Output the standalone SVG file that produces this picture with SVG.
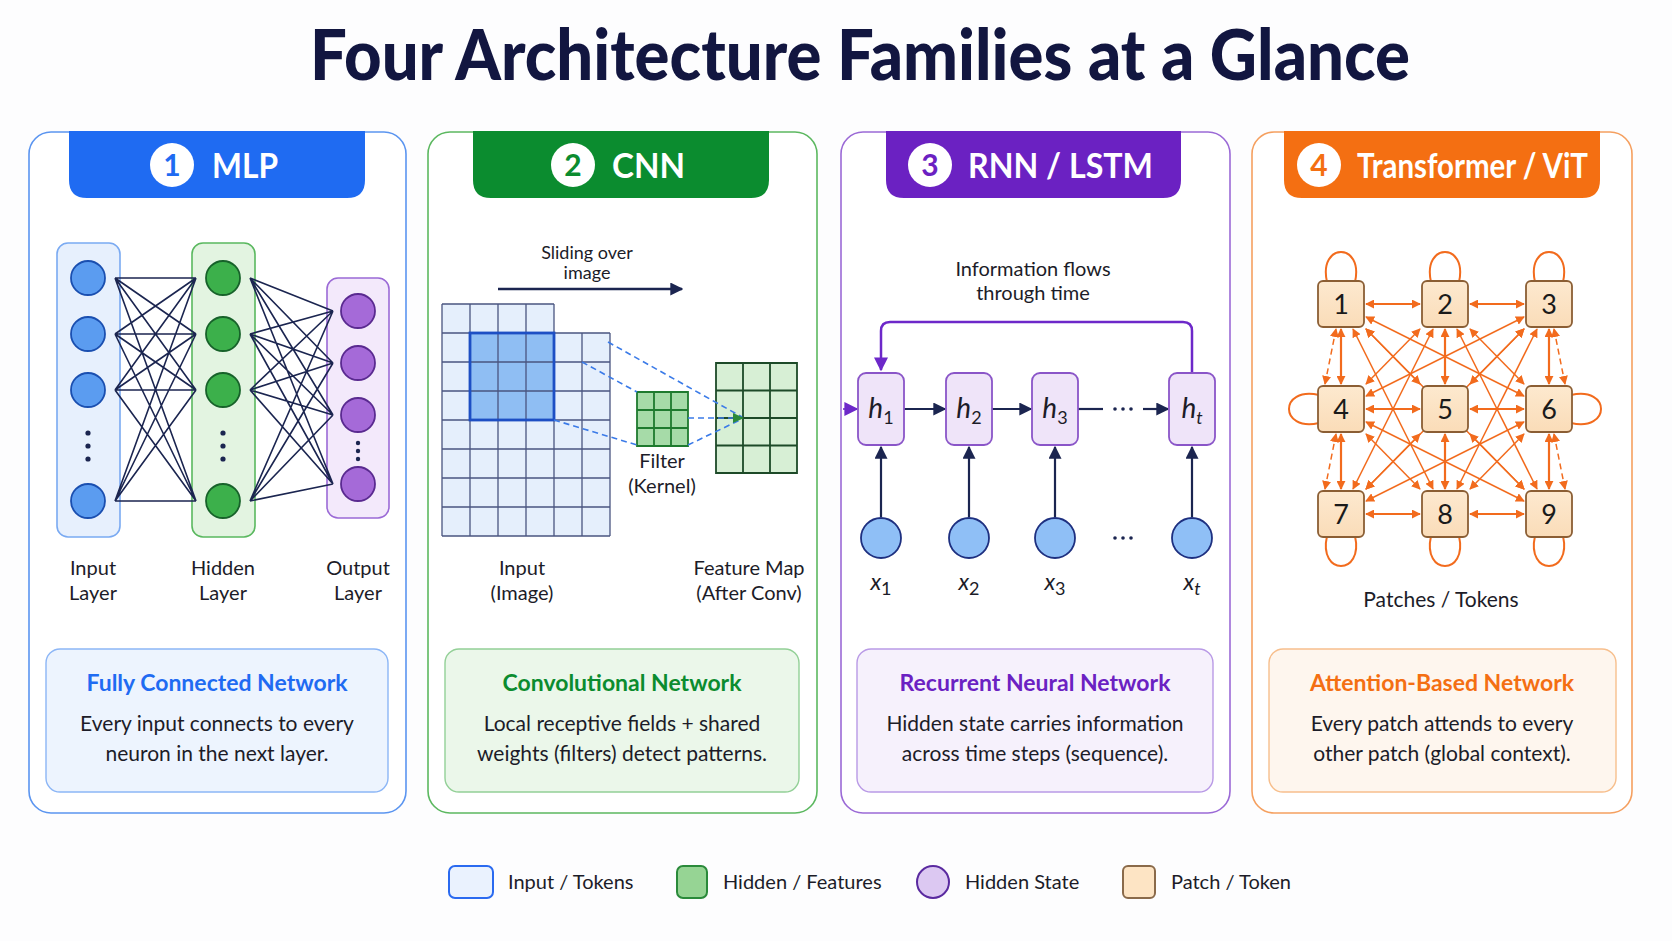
<svg xmlns="http://www.w3.org/2000/svg" width="1672" height="941" viewBox="0 0 1672 941">
<style>
text{font-family:Lato,"Liberation Sans",Arial,sans-serif;fill:#1c1c28}
.title{font-size:70px;font-weight:900;fill:#121640}
.hdr{font-size:35px;font-weight:700;fill:#fff}
.num{font-size:30px;font-weight:700}
.lbl{font-size:20px;text-anchor:middle}
.dt{font-size:23px;font-weight:700;text-anchor:middle}
.db{font-size:21px;text-anchor:middle}
.lg{font-size:20px}
.h{font-size:28px;font-style:italic;text-anchor:middle}
.x{font-size:23px;font-style:italic;text-anchor:middle}
.sub{font-size:18px;font-style:normal}
.tn{font-size:27px;text-anchor:middle;fill:#1a1a1a}
.panel{fill:#fff;stroke-width:1.6}
.nv{stroke:#1b2550;stroke-width:1.6;fill:none}
.oe{stroke:#f26b1d;stroke-width:1.5;fill:none;marker-start:url(#ao);marker-end:url(#ao)}
.oo{stroke:#f26b1d;stroke-width:2.2;fill:none;marker-start:url(#ao);marker-end:url(#ao)}
.loop{stroke:#f26b1d;stroke-width:2;fill:none}
.dash{stroke:#3b7be8;stroke-width:1.6;stroke-dasharray:6 4;fill:none}
.tok{fill:url(#gTok);stroke:#8b5e34;stroke-width:1.8}
.hb{fill:#efe4f9;stroke:#8a55c8;stroke-width:1.8}
.xc{fill:#8fbff6;stroke:#1e3080;stroke-width:1.8}
.in{fill:#5b9cf0;stroke:#1a4fb0;stroke-width:1.8}
.hd{fill:#3cb04b;stroke:#17622a;stroke-width:1.8}
.ou{fill:#a56ad8;stroke:#5a2a90;stroke-width:1.8}
.dot{fill:#1b2550}
</style>
<defs>
<linearGradient id="gTok" x1="0" y1="0" x2="0" y2="1"><stop offset="0" stop-color="#fde9cf"/><stop offset="1" stop-color="#fadcb8"/></linearGradient>
<marker id="an" viewBox="0 0 10 10" refX="9" refY="5" markerWidth="13" markerHeight="13" markerUnits="userSpaceOnUse" orient="auto"><path d="M0,0 L10,5 L0,10 z" fill="#1b2550"/></marker>
<marker id="ap" viewBox="0 0 10 10" refX="9" refY="5" markerWidth="14" markerHeight="14" markerUnits="userSpaceOnUse" orient="auto"><path d="M0,0 L10,5 L0,10 z" fill="#6d28c9"/></marker>
<marker id="ao" viewBox="0 0 10 10" refX="9" refY="5" markerWidth="9" markerHeight="9" markerUnits="userSpaceOnUse" orient="auto-start-reverse"><path d="M0,0 L10,5 L0,10 z" fill="#f26b1d"/></marker>
</defs>
<rect width="1672" height="941" fill="#fdfdfe"/>
<text class="title" x="860" y="80" text-anchor="middle" textLength="1100" lengthAdjust="spacingAndGlyphs">Four Architecture Families at a Glance</text>

<!-- Panels -->
<g id="panel-mlp">
<rect class="panel" x="29" y="132" width="377" height="681" rx="22" stroke="#5b95f0"/>
<path d="M69,131 H365 V180 Q365,198 347,198 H87 Q69,198 69,180 Z" fill="#1f6bf2"/>
<circle cx="172" cy="165" r="22" fill="#fff"/>
<text class="num" x="172" y="176" text-anchor="middle" style="fill:#1f6bf2">1</text>
<text class="hdr" x="212" y="178" textLength="66" lengthAdjust="spacingAndGlyphs">MLP</text>
</g>
<g id="panel-cnn">
<rect class="panel" x="428" y="132" width="389" height="681" rx="22" stroke="#5cb860"/>
<path d="M473,131 H769 V180 Q769,198 751,198 H491 Q473,198 473,180 Z" fill="#0b8c2f"/>
<circle cx="573" cy="165" r="22" fill="#fff"/>
<text class="num" x="573" y="176" text-anchor="middle" style="fill:#0b8c2f">2</text>
<text class="hdr" x="612" y="178" textLength="73" lengthAdjust="spacingAndGlyphs">CNN</text>
</g>
<g id="panel-rnn">
<rect class="panel" x="841" y="132" width="389" height="681" rx="22" stroke="#9b6ad6"/>
<path d="M886,131 H1181 V180 Q1181,198 1163,198 H904 Q886,198 886,180 Z" fill="#6b21c2"/>
<circle cx="930" cy="165" r="22" fill="#fff"/>
<text class="num" x="930" y="176" text-anchor="middle" style="fill:#6b21c2">3</text>
<text class="hdr" x="968" y="178" textLength="185" lengthAdjust="spacingAndGlyphs">RNN / LSTM</text>
</g>
<g id="panel-vit">
<rect class="panel" x="1252" y="132" width="380" height="681" rx="22" stroke="#f5a060"/>
<path d="M1284,131 H1600 V180 Q1600,198 1582,198 H1302 Q1284,198 1284,180 Z" fill="#f46f12"/>
<circle cx="1319" cy="165" r="22" fill="#fff"/>
<text class="num" x="1319" y="176" text-anchor="middle" style="fill:#f46f12">4</text>
<text class="hdr" x="1357" y="178" textLength="231" lengthAdjust="spacingAndGlyphs">Transformer / ViT</text>
</g>

<!-- MLP -->
<g id="mlp-layers">
<rect x="57" y="243" width="63" height="294" rx="11" fill="#e7f0fd" stroke="#7aaaf2" stroke-width="1.6"/>
<rect x="192" y="243" width="63" height="294" rx="11" fill="#e3f4e1" stroke="#5ab85f" stroke-width="1.6"/>
<rect x="327" y="278" width="62" height="240" rx="11" fill="#f3e9fb" stroke="#9b6ad6" stroke-width="1.6"/>
</g>
<g id="connectors">
<path class="nv" d="M115 278L196 278M115 278L196 334M115 278L196 390M115 278L196 501M115 334L196 278M115 334L196 334M115 334L196 390M115 334L196 501M115 390L196 278M115 390L196 334M115 390L196 390M115 390L196 501M115 501L196 278M115 501L196 334M115 501L196 390M115 501L196 501"/>
<path class="nv" d="M250 278L333 311M250 278L333 363M250 278L333 415M250 278L333 484M250 334L333 311M250 334L333 363M250 334L333 415M250 334L333 484M250 390L333 311M250 390L333 363M250 390L333 415M250 390L333 484M250 501L333 311M250 501L333 363M250 501L333 415M250 501L333 484"/>
</g>
<g id="mlp-nodes">
<circle class="in" cx="88" cy="278" r="17"/><circle class="in" cx="88" cy="334" r="17"/><circle class="in" cx="88" cy="390" r="17"/><circle class="in" cx="88" cy="501" r="17"/>
<circle class="dot" cx="88" cy="433" r="2.6"/><circle class="dot" cx="88" cy="446" r="2.6"/><circle class="dot" cx="88" cy="459" r="2.6"/>
<circle class="hd" cx="223" cy="278" r="17"/><circle class="hd" cx="223" cy="334" r="17"/><circle class="hd" cx="223" cy="390" r="17"/><circle class="hd" cx="223" cy="501" r="17"/>
<circle class="dot" cx="223" cy="433" r="2.6"/><circle class="dot" cx="223" cy="446" r="2.6"/><circle class="dot" cx="223" cy="459" r="2.6"/>
<circle class="ou" cx="358" cy="311" r="17"/><circle class="ou" cx="358" cy="363" r="17"/><circle class="ou" cx="358" cy="415" r="17"/><circle class="ou" cx="358" cy="484" r="17"/>
<circle class="dot" cx="358" cy="443" r="2.2"/><circle class="dot" cx="358" cy="451" r="2.2"/><circle class="dot" cx="358" cy="459" r="2.2"/>
</g>
<g id="mlp-labels">
<text class="lbl" x="93" y="575">Input</text><text class="lbl" x="93" y="600">Layer</text>
<text class="lbl" x="223" y="575">Hidden</text><text class="lbl" x="223" y="600">Layer</text>
<text class="lbl" x="358" y="575">Output</text><text class="lbl" x="358" y="600">Layer</text>
</g>

<!-- CNN -->
<g id="cnn-slide">
<text class="lbl" x="587" y="259" style="font-size:18px">Sliding over</text>
<text class="lbl" x="587" y="279" style="font-size:18px">image</text>
<line x1="498" y1="289" x2="682" y2="289" stroke="#1b2550" stroke-width="2.5" marker-end="url(#an)"/>
</g>
<g id="cnn-input">
<path d="M442,304 H554 V333 H610 V536 H442 Z" fill="#e5effc"/>
<rect x="470" y="333" width="84" height="87" fill="#8fbef3"/>
<path d="M442,304 H554 M442,333 H610 M442,362 H610 M442,391 H610 M442,420 H610 M442,449 H610 M442,478 H610 M442,507 H610 M442,536 H610 M442,304 V536 M470,304 V536 M498,304 V536 M526,304 V536 M554,304 V536 M582,333 V536 M610,333 V536" stroke="#4a5580" stroke-width="1.3" fill="none"/>
<rect x="470" y="333" width="84" height="87" fill="none" stroke="#1d4fc4" stroke-width="2.8"/>
</g>
<g id="cnn-filter">
<rect x="637" y="392" width="51" height="54" fill="#a6dba8"/>
<path d="M637,392 H688 V446 H637 Z M654,392 V446 M671,392 V446 M637,410 H688 M637,428 H688" stroke="#1e7a2e" stroke-width="1.8" fill="none"/>
</g>
<g id="cnn-fmap">
<rect x="716" y="363" width="81" height="110" fill="#d7efd5"/>
<path d="M716,363 H797 V473 H716 Z M743,363 V473 M770,363 V473 M716,390.5 H797 M716,418 H797 M716,445.5 H797" stroke="#1d4a28" stroke-width="1.8" fill="none"/>
</g>
<g id="cnn-projection">
<path class="dash" d="M608,342 L742,417 M582,362 L637,392 M554,420 L637,445 M688,418 L738,418 M688,445 L740,420"/>
<polygon points="733,413 744,418 733,423" fill="#2a8a3a"/>
</g>
<g id="cnn-labels">
<text class="lbl" x="662" y="468">Filter</text><text class="lbl" x="662" y="493">(Kernel)</text>
<text class="lbl" x="522" y="575">Input</text><text class="lbl" x="522" y="600">(Image)</text>
<text class="lbl" x="749" y="575">Feature Map</text><text class="lbl" x="749" y="600">(After Conv)</text>
</g>

<!-- RNN -->
<g id="rnn-caption">
<text class="lbl" x="1033" y="276">Information flows</text>
<text class="lbl" x="1033" y="300">through time</text>
</g>
<g id="rnn-connectors">
<path d="M1192,373 V331 Q1192,322 1183,322 H890 Q881,322 881,331 V370" stroke="#6d28c9" stroke-width="2.5" fill="none" marker-end="url(#ap)"/>
<line x1="843" y1="409" x2="857" y2="409" stroke="#6d28c9" stroke-width="1.6" marker-end="url(#ap)"/>
<line x1="904" y1="409" x2="945" y2="409" stroke="#1b2550" stroke-width="2.2" marker-end="url(#an)"/>
<line x1="992" y1="409" x2="1031" y2="409" stroke="#1b2550" stroke-width="2.2" marker-end="url(#an)"/>
<line x1="1078" y1="409" x2="1103" y2="409" stroke="#1b2550" stroke-width="2.2"/>
<line x1="1143" y1="409" x2="1168" y2="409" stroke="#1b2550" stroke-width="2.2" marker-end="url(#an)"/>
<circle class="dot" cx="1115" cy="409" r="1.8"/><circle class="dot" cx="1123" cy="409" r="1.8"/><circle class="dot" cx="1131" cy="409" r="1.8"/>
<line x1="881" y1="517" x2="881" y2="447" stroke="#1b2550" stroke-width="2.2" marker-end="url(#an)"/>
<line x1="969" y1="517" x2="969" y2="447" stroke="#1b2550" stroke-width="2.2" marker-end="url(#an)"/>
<line x1="1055" y1="517" x2="1055" y2="447" stroke="#1b2550" stroke-width="2.2" marker-end="url(#an)"/>
<line x1="1192" y1="517" x2="1192" y2="447" stroke="#1b2550" stroke-width="2.2" marker-end="url(#an)"/>
</g>
<g id="rnn-h1"><rect class="hb" x="858" y="373" width="46" height="72" rx="8"/><text class="h" x="881" y="418">h<tspan class="sub" dy="6">1</tspan></text></g>
<g id="rnn-h2"><rect class="hb" x="946" y="373" width="46" height="72" rx="8"/><text class="h" x="969" y="418">h<tspan class="sub" dy="6">2</tspan></text></g>
<g id="rnn-h3"><rect class="hb" x="1032" y="373" width="46" height="72" rx="8"/><text class="h" x="1055" y="418">h<tspan class="sub" dy="6">3</tspan></text></g>
<g id="rnn-ht"><rect class="hb" x="1169" y="373" width="46" height="72" rx="8"/><text class="h" x="1192" y="418">h<tspan class="sub" dy="6" style="font-style:italic">t</tspan></text></g>
<g id="rnn-x1"><circle class="xc" cx="881" cy="538" r="20"/><text class="x" x="881" y="590">x<tspan class="sub" dy="5">1</tspan></text></g>
<g id="rnn-x2"><circle class="xc" cx="969" cy="538" r="20"/><text class="x" x="969" y="590">x<tspan class="sub" dy="5">2</tspan></text></g>
<g id="rnn-x3"><circle class="xc" cx="1055" cy="538" r="20"/><text class="x" x="1055" y="590">x<tspan class="sub" dy="5">3</tspan></text></g>
<g id="rnn-xt"><circle class="xc" cx="1192" cy="538" r="20"/><text class="x" x="1192" y="590">x<tspan class="sub" dy="5" style="font-style:italic">t</tspan></text></g>
<g id="rnn-dots"><circle class="dot" cx="1115" cy="538" r="1.8"/><circle class="dot" cx="1123" cy="538" r="1.8"/><circle class="dot" cx="1131" cy="538" r="1.8"/></g>

<!-- Transformer -->
<g id="vit-connectors">
<path class="oe" d="M1353,329 L1433,489"/><path class="oe" d="M1433,329 L1353,489"/>
<path class="oe" d="M1457,329 L1537,489"/><path class="oe" d="M1537,329 L1457,489"/>
<path class="oe" d="M1366,317 L1524,396"/><path class="oe" d="M1524,317 L1366,396"/>
<path class="oe" d="M1366,422 L1524,501"/><path class="oe" d="M1524,422 L1366,501"/>
<path class="oe" d="M1366,329 L1524,489"/><path class="oe" d="M1524,329 L1366,489"/>
<path class="oe" d="M1366,329 L1420,384"/><path class="oe" d="M1420,329 L1366,384"/>
<path class="oe" d="M1470,329 L1524,384"/><path class="oe" d="M1524,329 L1470,384"/>
<path class="oe" d="M1366,434 L1420,489"/><path class="oe" d="M1420,434 L1366,489"/>
<path class="oe" d="M1470,434 L1524,489"/><path class="oe" d="M1524,434 L1470,489"/>
<path class="oe" style="stroke-dasharray:6 4" d="M1325,384 L1336,329"/>
<path class="oe" style="stroke-dasharray:6 4" d="M1565,384 L1554,329"/>
<path class="oe" style="stroke-dasharray:6 4" d="M1325,489 L1336,434"/>
<path class="oe" style="stroke-dasharray:6 4" d="M1565,489 L1554,434"/>
<path class="oo" d="M1366,304 L1420,304"/><path class="oo" d="M1470,304 L1524,304"/>
<path class="oo" d="M1366,409 L1420,409"/><path class="oo" d="M1470,409 L1524,409"/>
<path class="oo" d="M1366,514 L1420,514"/><path class="oo" d="M1470,514 L1524,514"/>
<path class="oo" d="M1341,329 L1341,384"/><path class="oo" d="M1341,434 L1341,489"/>
<path class="oo" d="M1445,329 L1445,384"/><path class="oo" d="M1445,434 L1445,489"/>
<path class="oo" d="M1549,329 L1549,384"/><path class="oo" d="M1549,434 L1549,489"/>
<path class="loop" d="M1327,282 C1318,242 1364,242 1355,282"/>
<path class="loop" d="M1431,282 C1422,242 1468,242 1459,282"/>
<path class="loop" d="M1535,282 C1526,242 1572,242 1563,282"/>
<path class="loop" d="M1327,536 C1318,576 1364,576 1355,536"/>
<path class="loop" d="M1431,536 C1422,576 1468,576 1459,536"/>
<path class="loop" d="M1535,536 C1526,576 1572,576 1563,536"/>
<path class="loop" d="M1319,395 C1279,386 1279,432 1319,423"/>
<path class="loop" d="M1571,395 C1611,386 1611,432 1571,423"/>
</g>
<g id="tok-1"><rect class="tok" x="1318" y="281" width="46" height="46" rx="5"/><text class="tn" x="1341" y="314">1</text></g>
<g id="tok-2"><rect class="tok" x="1422" y="281" width="46" height="46" rx="5"/><text class="tn" x="1445" y="314">2</text></g>
<g id="tok-3"><rect class="tok" x="1526" y="281" width="46" height="46" rx="5"/><text class="tn" x="1549" y="314">3</text></g>
<g id="tok-4"><rect class="tok" x="1318" y="386" width="46" height="46" rx="5"/><text class="tn" x="1341" y="419">4</text></g>
<g id="tok-5"><rect class="tok" x="1422" y="386" width="46" height="46" rx="5"/><text class="tn" x="1445" y="419">5</text></g>
<g id="tok-6"><rect class="tok" x="1526" y="386" width="46" height="46" rx="5"/><text class="tn" x="1549" y="419">6</text></g>
<g id="tok-7"><rect class="tok" x="1318" y="491" width="46" height="46" rx="5"/><text class="tn" x="1341" y="524">7</text></g>
<g id="tok-8"><rect class="tok" x="1422" y="491" width="46" height="46" rx="5"/><text class="tn" x="1445" y="524">8</text></g>
<g id="tok-9"><rect class="tok" x="1526" y="491" width="46" height="46" rx="5"/><text class="tn" x="1549" y="524">9</text></g>
<text class="lbl" x="1441" y="607" style="font-size:21px">Patches / Tokens</text>

<!-- Description boxes -->
<g id="desc-mlp">
<rect x="46" y="649" width="342" height="143" rx="14" fill="#edf4fe" stroke="#8cb6f6" stroke-width="1.4"/>
<text class="dt" x="217" y="691" style="fill:#1f6bf2">Fully Connected Network</text>
<text class="db" x="217" y="731">Every input connects to every</text>
<text class="db" x="217" y="761">neuron in the next layer.</text>
</g>
<g id="desc-cnn">
<rect x="445" y="649" width="354" height="143" rx="14" fill="#ebf7ea" stroke="#93d097" stroke-width="1.4"/>
<text class="dt" x="622" y="691" style="fill:#0b8c2f">Convolutional Network</text>
<text class="db" x="622" y="731">Local receptive fields + shared</text>
<text class="db" x="622" y="761">weights (filters) detect patterns.</text>
</g>
<g id="desc-rnn">
<rect x="857" y="649" width="356" height="143" rx="14" fill="#f6f1fc" stroke="#b99ae6" stroke-width="1.4"/>
<text class="dt" x="1035" y="691" style="fill:#6b21c2">Recurrent Neural Network</text>
<text class="db" x="1035" y="731">Hidden state carries information</text>
<text class="db" x="1035" y="761">across time steps (sequence).</text>
</g>
<g id="desc-vit">
<rect x="1269" y="649" width="347" height="143" rx="14" fill="#fef6ee" stroke="#f7bf8d" stroke-width="1.4"/>
<text class="dt" x="1442" y="691" style="fill:#f46f12">Attention-Based Network</text>
<text class="db" x="1442" y="731">Every patch attends to every</text>
<text class="db" x="1442" y="761">other patch (global context).</text>
</g>

<!-- Legend -->
<g id="legend">
<rect x="449" y="866" width="44" height="32" rx="6" fill="#eaf2fe" stroke="#2a6af0" stroke-width="2"/>
<text class="lg" x="508" y="889">Input / Tokens</text>
<rect x="677" y="866" width="30" height="32" rx="6" fill="#96d494" stroke="#2a8a3a" stroke-width="2"/>
<text class="lg" x="723" y="889">Hidden / Features</text>
<circle cx="933" cy="882" r="16" fill="#dcc8f2" stroke="#5a2aa0" stroke-width="2"/>
<text class="lg" x="965" y="889">Hidden State</text>
<rect x="1123" y="866" width="32" height="32" rx="5" fill="#fde4c4" stroke="#8a6a4a" stroke-width="2"/>
<text class="lg" x="1171" y="889">Patch / Token</text>
</g>
</svg>
